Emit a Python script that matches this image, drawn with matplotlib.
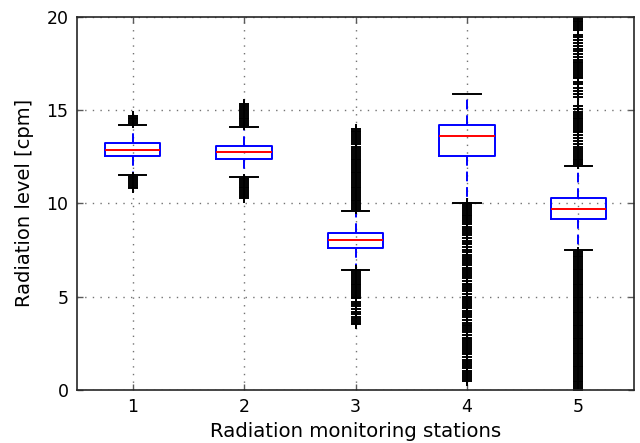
import numpy as np
import matplotlib
matplotlib.use("Agg")
import matplotlib.pyplot as plt

# box statistics (cpm)
stations = [1, 2, 3, 4, 5]
q1 = [12.55, 12.40, 7.60, 12.53, 9.15]
med = [12.87, 12.75, 8.03, 13.62, 9.70]
q3 = [13.24, 13.08, 8.43, 14.20, 10.31]
whislo = [11.53, 11.42, 6.45, 10.03, 7.49]
whishi = [14.20, 14.10, 9.61, 15.87, 12.01]

# outliers
fliers_1 = [14.3, 14.4, 14.5, 14.6, 14.7,
            11.4, 11.3, 11.2, 11.1, 11.0, 10.9, 10.8]
fliers_2 = [14.2, 14.3, 14.4, 14.5, 14.6, 14.7, 14.8, 14.9, 15.0, 15.1, 15.2, 15.3,
            11.3, 11.2, 11.1, 11.0, 10.9, 10.8, 10.7, 10.6, 10.5, 10.4, 10.3]
fliers_3 = [9.7, 9.8, 9.9, 10.0, 10.1, 10.2, 10.3, 10.4, 10.5, 10.6, 10.7, 10.8,
            10.9, 11.0, 11.1, 11.2, 11.3, 11.4, 11.5, 11.6, 11.7, 11.8, 11.9, 12.0,
            12.1, 12.2, 12.3, 12.4, 12.5, 12.6, 12.7, 12.8, 12.9, 13.0, 13.2,
            13.3, 13.4, 13.5, 13.6, 13.7, 13.8, 13.9, 14.0,
            6.4, 6.3, 6.2, 6.1, 6.0, 5.9, 5.8, 5.7, 5.6, 5.5, 5.4, 5.3, 5.2, 5.1,
            5.0, 4.9, 4.7, 4.6, 4.5, 4.34, 4.2, 4.06, 3.93, 3.81, 3.70, 3.61, 3.52]
fliers_4 = [10.0, 9.9, 9.8, 9.7, 9.6, 9.5, 9.4, 9.3, 9.2, 9.1, 9.0, 8.9, 8.75,
            8.6, 8.5, 8.4, 8.3, 8.15, 8.0, 7.9, 7.8, 7.65, 7.5, 7.4, 7.25, 7.1,
            7.0, 6.9, 6.8, 6.7, 6.55, 6.4, 6.3, 6.2, 6.1, 6.0, 5.85, 5.7, 5.6,
            5.5, 5.4, 5.3, 5.15, 5.0, 4.9, 4.8, 4.7, 4.6, 4.5, 4.4, 4.25, 4.1,
            4.0, 3.9, 3.75, 3.6, 3.5, 3.4, 3.3, 3.2, 3.1, 2.95, 2.8, 2.7, 2.6,
            2.5, 2.4, 2.3, 2.2, 2.1, 2.0, 1.9, 1.75, 1.6, 1.5, 1.4, 1.3, 1.15,
            1.0, 0.9, 0.8, 0.7, 0.6, 0.5]
fliers_5 = [7.4, 7.3, 7.2, 7.1, 7.0, 6.9, 6.8, 6.7, 6.6, 6.5, 6.4, 6.3, 6.2,
            6.1, 6.0, 5.9, 5.8, 5.7, 5.6, 5.5, 5.4, 5.3, 5.2, 5.1, 5.0, 4.9,
            4.8, 4.7, 4.6, 4.5, 4.4, 4.3, 4.2, 4.1, 4.0, 3.9, 3.8, 3.7, 3.6,
            3.5, 3.4, 3.3, 3.2, 3.1, 3.0, 2.9, 2.8, 2.7, 2.6, 2.5, 2.4, 2.3,
            2.2, 2.1, 2.0, 1.9, 1.8, 1.7, 1.6, 1.5, 1.4, 1.3, 1.2, 1.1, 1.0,
            0.9, 0.8, 0.7, 0.6, 0.5, 0.4, 0.3, 0.2, 0.1, 0.0,
            12.1, 12.2, 12.3, 12.4, 12.5, 12.6, 12.7, 12.8, 12.9,
            13.0, 13.2, 13.35, 13.5, 13.65,
            13.8, 13.9, 14.0, 14.1, 14.2, 14.3, 14.4, 14.5, 14.6, 14.7, 14.8, 14.9,
            15.05, 15.2,
            15.7, 15.85, 16.0, 16.2, 16.4, 16.5, 16.7,
            16.8, 16.9, 17.0, 17.1, 17.2, 17.3, 17.4, 17.5, 17.6, 17.7,
            17.85, 18.0, 18.15, 18.3, 18.45, 18.6, 18.75, 18.9, 19.05,
            19.3, 19.4, 19.5, 19.6, 19.7, 19.8, 19.9, 20.0, 20.1, 20.2, 20.3]
fliers = [fliers_1, fliers_2, fliers_3, fliers_4, fliers_5]

stats = []
for i in range(len(stations)):
    stats.append(dict(q1=q1[i], med=med[i], q3=q3[i], whislo=whislo[i],
                      whishi=whishi[i], fliers=fliers[i]))

fig = plt.figure(figsize=(6.4, 4.43), dpi=100)
ax = fig.add_axes([0.120, 0.120, 0.871, 0.842])
ax.bxp(stats, positions=stations, widths=0.5,
       boxprops=dict(color='b', lw=1.4),
       whiskerprops=dict(color='b', lw=1.4, dashes=(5, 3)),
       capprops=dict(color='k', lw=1.4),
       medianprops=dict(color='r', lw=1.4),
       flierprops=dict(marker='+', markeredgecolor='k', markersize=7.5, markeredgewidth=1.4))

ax.set_xlim(0.5, 5.5)
ax.set_ylim(0, 20)
ax.set_xticks(stations)
ax.set_xticklabels([str(s) for s in stations])
ax.set_yticks([0, 5, 10, 15, 20])
ax.grid(True, color='0.45', lw=1.0, dashes=(1, 4.5))
ax.tick_params(direction='in', top=True, right=True, labelsize=12.5,
               length=4, width=1, color='0.35', pad=6)
for s in ax.spines.values():
    s.set_linewidth(1.2)
    s.set_color('0.15')
ax.set_xlabel("Radiation monitoring stations", fontsize=14.2)
ax.set_ylabel("Radiation level [cpm]", fontsize=14, labelpad=9)

fig.savefig("out.png", dpi=100)
